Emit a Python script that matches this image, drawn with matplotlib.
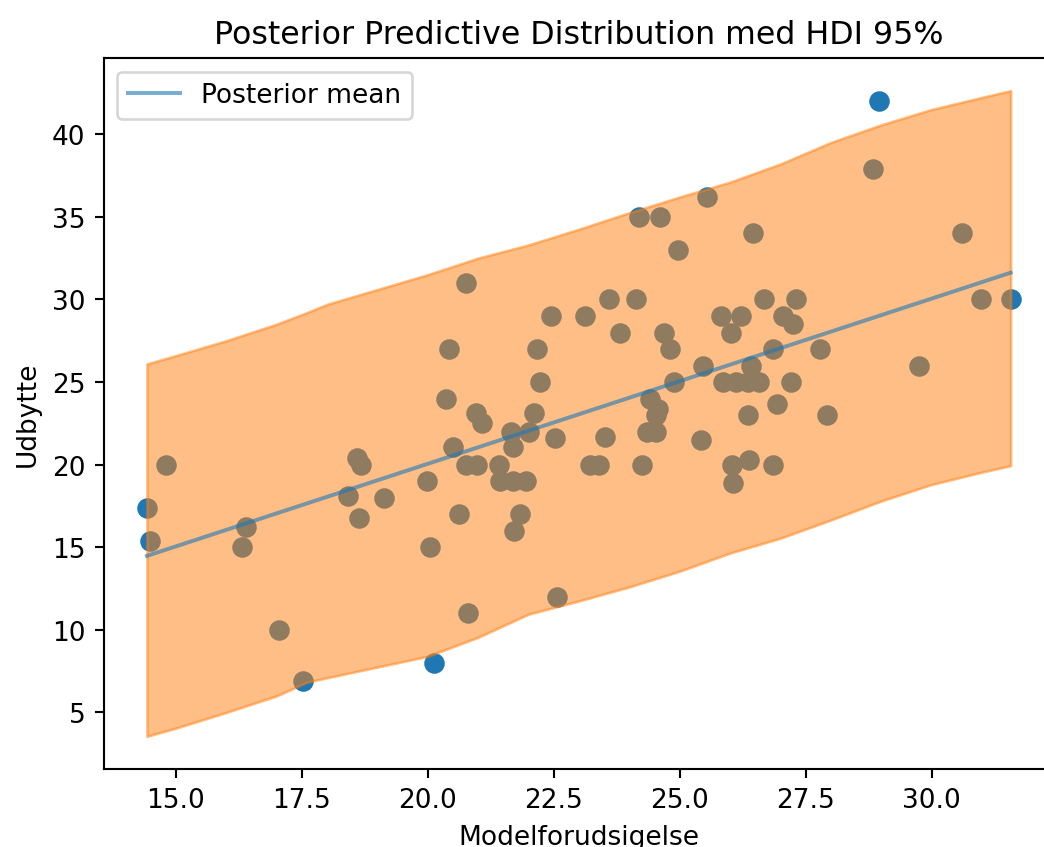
import matplotlib
matplotlib.use("Agg")
import matplotlib.pyplot as plt
import numpy as np

# Observed yields against the model prediction
x_pred = [14.43, 14.49, 14.80, 16.32, 16.39, 17.05, 17.53, 18.41, 18.60, 18.68,
          18.64, 19.13, 19.98, 20.05, 20.13, 20.36, 20.43, 20.51, 20.63, 20.77,
          20.77, 20.81, 20.96, 20.97, 21.08, 21.42, 21.43, 21.65, 21.69, 21.70,
          21.72, 21.84, 21.95, 22.02, 22.11, 22.18, 22.23, 22.45, 22.53, 22.56,
          23.13, 23.22, 23.41, 23.52, 23.60, 23.82, 24.13, 24.19, 24.25, 24.36,
          24.41, 24.53, 24.54, 24.58, 24.62, 24.70, 24.81, 24.89, 24.96, 25.42,
          25.46, 25.54, 25.83, 25.86, 26.03, 26.05, 26.06, 26.11, 26.22, 26.35,
          26.35, 26.38, 26.41, 26.45, 26.58, 26.68, 26.86, 26.86, 26.94, 27.06,
          27.21, 27.25, 27.32, 27.78, 27.93, 28.84, 28.96, 29.75, 30.60, 30.99,
          31.57]
y_obs = [17.4, 15.4, 20.0, 15.0, 16.2, 10.0, 6.9, 18.1, 20.4, 20.0,
         16.8, 18.0, 19.0, 15.0, 8.0, 24.0, 27.0, 21.1, 17.0, 31.0,
         20.0, 11.0, 23.1, 20.0, 22.5, 20.0, 19.0, 22.0, 21.1, 19.0,
         16.0, 17.0, 19.0, 22.0, 23.1, 27.0, 25.0, 29.0, 21.6, 12.0,
         29.0, 20.0, 20.0, 21.7, 30.0, 28.0, 30.0, 35.0, 20.0, 22.0,
         24.0, 22.0, 23.0, 23.4, 35.0, 28.0, 27.0, 25.0, 33.0, 21.5,
         26.0, 36.2, 29.0, 25.0, 28.0, 20.0, 18.9, 25.0, 29.0, 25.0,
         23.0, 20.3, 26.0, 34.0, 25.0, 30.0, 27.0, 20.0, 23.7, 29.0,
         25.0, 28.5, 30.0, 27.0, 23.0, 37.9, 42.0, 26.0, 34.0, 30.0,
         30.0]

# 95% HDI of the posterior predictive, on a grid of predictions
hdi_x = [14.43, 15.0, 16.0, 17.0, 17.6, 18.0, 19.0, 20.0, 21.0, 22.0,
         23.0, 24.0, 25.0, 26.0, 27.0, 28.0, 29.0, 30.0, 31.0, 31.57]
hdi_low = [3.56, 4.05, 5.0, 6.0, 6.83, 7.1, 7.75, 8.4, 9.55, 10.95,
           11.75, 12.6, 13.55, 14.65, 15.55, 16.65, 17.8, 18.8, 19.55, 19.94]
hdi_high = [26.1, 26.6, 27.5, 28.5, 29.2, 29.7, 30.6, 31.5, 32.5, 33.3,
            34.25, 35.25, 36.2, 37.1, 38.2, 39.5, 40.57, 41.5, 42.23, 42.64]
post_mean = [14.48, 15.05, 16.05, 17.05, 17.65, 18.05, 19.05, 20.05, 21.05, 22.05,
             23.05, 24.05, 25.05, 26.05, 27.05, 28.05, 29.05, 30.05, 31.05, 31.62]

fig = plt.figure(figsize=(1044 / 190, 848 / 190), dpi=190)
ax = fig.add_axes([0.0994, 0.0925, 0.910, 0.8375])

ax.scatter(x_pred, y_obs, s=46, color="C0")
ax.fill_between(hdi_x, hdi_low, hdi_high, color="C1", alpha=0.5)
ax.plot(hdi_x, post_mean, color="C0", alpha=0.6, lw=1.5, label="Posterior mean")

ax.set_xticks([15.0, 17.5, 20.0, 22.5, 25.0, 27.5, 30.0])
ax.set_yticks([5, 10, 15, 20, 25, 30, 35, 40])
ax.set_xlabel("Modelforudsigelse")
ax.set_ylabel("Udbytte")
ax.set_title("Posterior Predictive Distribution med HDI 95%")
ax.legend(loc="upper left")

fig.savefig("out.png", dpi=190)
